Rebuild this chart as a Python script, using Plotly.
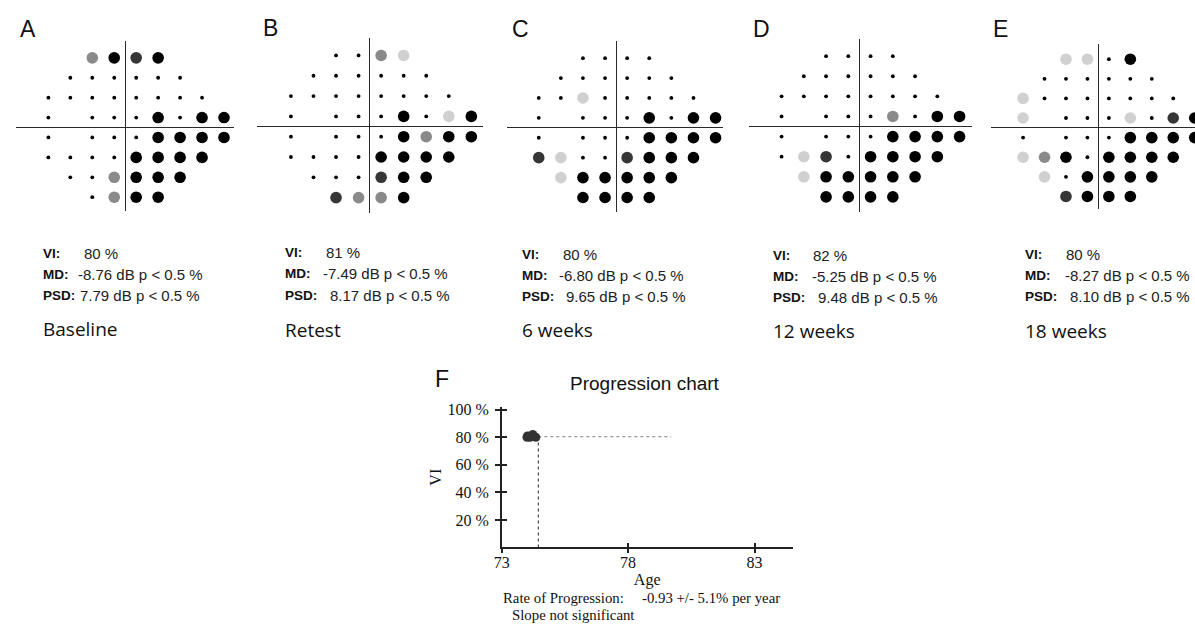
import plotly.graph_objects as go

W, H = 1195, 624

# ---------------- data ----------------
# 24-2 test grid locations (degrees), top row first; blind spot omitted
ROW_Y = [21, 15, 9, 3, -3, -9, -15, -21]
ROW_X = [
    [-9, -3, 3, 9],
    [-15, -9, -3, 3, 9, 15],
    [-21, -15, -9, -3, 3, 9, 15, 21],
    [-21, -9, -3, 3, 9, 15, 21, 27],
    [-21, -9, -3, 3, 9, 15, 21, 27],
    [-21, -15, -9, -3, 3, 9, 15, 21],
    [-15, -9, -3, 3, 9, 15],
    [-9, -3, 3, 9],
]

# pattern deviation levels: 0 normal, 1 p<5%, 2 p<2%, 3 p<1%, 4 p<0.5%
LEVELS_A = [[2, 4, 3, 4], [0] * 6, [0] * 8,
            [0, 0, 0, 0, 4, 0, 4, 4], [0, 0, 0, 0, 4, 4, 4, 4],
            [0, 0, 0, 0, 4, 4, 4, 4], [0, 0, 2, 4, 4, 4], [0, 2, 4, 4]]
LEVELS_B = [[0, 0, 2, 1], [0] * 6, [0] * 8,
            [0, 0, 0, 0, 4, 0, 1, 4], [0, 0, 0, 0, 4, 2, 4, 4],
            [0, 0, 0, 0, 4, 4, 4, 4], [0, 0, 0, 3, 4, 4], [3, 2, 2, 4]]
LEVELS_C = [[0, 0, 0, 0], [0] * 6, [0, 0, 1, 0, 0, 0, 0, 0],
            [0, 0, 0, 0, 4, 0, 4, 4], [0, 0, 0, 0, 4, 4, 4, 4],
            [3, 1, 0, 0, 3, 4, 4, 4], [1, 4, 4, 4, 4, 4], [4, 4, 4, 4]]
LEVELS_D = [[0, 0, 0, 0], [0] * 6, [0] * 8,
            [0, 0, 0, 0, 2, 0, 4, 4], [0, 0, 0, 0, 4, 4, 4, 4],
            [0, 1, 3, 0, 4, 4, 4, 4], [1, 4, 4, 4, 4, 4], [4, 4, 4, 4]]
LEVELS_E = [[1, 1, 0, 4], [0] * 6, [1, 0, 0, 0, 0, 0, 0, 0],
            [1, 0, 0, 0, 1, 0, 3, 4], [0, 0, 0, 0, 4, 4, 4, 4],
            [1, 2, 4, 0, 4, 4, 4, 4], [1, 0, 4, 4, 4, 4], [3, 4, 4, 4]]

PANEL_LETTERS = ["A", "B", "C", "D", "E"]
PANEL_NAMES = ["Baseline", "Retest", "6 weeks", "12 weeks", "18 weeks"]
VI_VALUES = ["80 %", "81 %", "80 %", "82 %", "80 %"]
MD_VALUES = ["-8.76 dB p < 0.5 %", "-7.49 dB p < 0.5 %", "-6.80 dB p < 0.5 %",
             "-5.25 dB p < 0.5 %", "-8.27 dB p < 0.5 %"]
PSD_VALUES = ["7.79 dB p < 0.5 %", "8.17 dB p < 0.5 %", "9.65 dB p < 0.5 %",
              "9.48 dB p < 0.5 %", "8.10 dB p < 0.5 %"]

# progression chart
AGES = [74.0, 74.02, 74.12, 74.23, 74.35]
VI_SERIES = [80, 81, 80, 82, 80]
CURRENT_AGE = 74.45
PROJ_END_AGE = 79.7
PROJ_VI = 80.5
Y_TICKS = [20, 40, 60, 80, 100]
Y_TICKTEXT = ["20 %", "40 %", "60 %", "80 %", "100 %"]
X_TICKS = [73, 78, 83]
RATE_LABEL = "Rate of Progression:"
RATE_VALUE = "-0.93 +/- 5.1% per year"
SLOPE_TEXT = "Slope not significant"

# ---------------- styling / geometry (pixels) ----------------
LEVEL_STYLE = {
    0: dict(color="#000000", size=3.8),
    1: dict(color="#d0d0d0", size=11.6),
    2: dict(color="#8a8a8a", size=11.6),
    3: dict(color="#363636", size=11.6),
    4: dict(color="#000000", size=11.6),
}
# per-panel: centre, px per 6 deg (x, y), cross extents
GEOM = [
    dict(cx=118.0, cy=122.7, sx=22.1, sy=20.1, hx=(8, 228), vy=(35, 207)),
    dict(cx=364.3, cy=121.7, sx=22.7, sy=20.5, hx=(251, 478), vy=(32, 209)),
    dict(cx=612.2, cy=123.0, sx=22.25, sy=20.1, hx=(502, 720), vy=(35, 208)),
    dict(cx=857.2, cy=121.7, sx=22.4, sy=20.3, hx=(746, 970), vy=(33, 208)),
    dict(cx=1097.5, cy=123.0, sx=21.6, sy=19.8, hx=(990, 1195), vy=(38, 205)),
]
LETTER_POS = [(10, 23), (255, 22), (505, 23), (748, 23), (990, 23)]
LABEL_X = [33, 277, 515, 768, 1022]
VI_VAL_X = [75, 318, 557, 808, 1063]
MD_VAL_X = [68, 315, 553, 807, 1062]
PSD_VAL_X = [70, 322, 560, 813, 1067]
ROWS_Y = [(250, 271, 292, 326), (249, 270, 292, 327), (251, 272, 293, 327),
          (252, 273, 294, 328), (251, 272, 293, 328)]

SANS = "Liberation Sans, Arial, sans-serif"
SERIF = "Liberation Serif, Times New Roman, serif"


def px(x):
    return x / W


def py(y):
    return 1 - y / H


fig = go.Figure()
annotations = []
layout = {}
all_levels = [LEVELS_A, LEVELS_B, LEVELS_C, LEVELS_D, LEVELS_E]

for i, levels in enumerate(all_levels):
    n = i + 1
    xa = "x" if n == 1 else f"x{n}"
    ya = "y" if n == 1 else f"y{n}"
    g = GEOM[i]
    for lev in range(5):
        xs, ys = [], []
        for r, yv in enumerate(ROW_Y):
            for c, xv in enumerate(ROW_X[r]):
                if levels[r][c] == lev:
                    xs.append(xv)
                    ys.append(yv)
        if not xs:
            continue
        st = LEVEL_STYLE[lev]
        fig.add_trace(go.Scatter(
            x=xs, y=ys, mode="markers", xaxis=xa, yaxis=ya, showlegend=False,
            hoverinfo="skip",
            marker=dict(color=st["color"], size=st["size"], line=dict(width=0)),
        ))
    x0, x1 = g["hx"]
    y0, y1 = g["vy"]
    kx = 6.0 / g["sx"]
    ky = 6.0 / g["sy"]
    axcommon = dict(showgrid=False, zeroline=True, zerolinecolor="#2a2a2a",
                    zerolinewidth=1.4, showticklabels=False, ticks="",
                    showline=False, fixedrange=True)
    layout["xaxis" if n == 1 else f"xaxis{n}"] = dict(
        domain=[px(x0), min(1.0, px(x1))],
        range=[(x0 - g["cx"]) * kx, (min(x1, W) - g["cx"]) * kx],
        anchor=ya, **axcommon)
    layout["yaxis" if n == 1 else f"yaxis{n}"] = dict(
        domain=[py(y1), py(y0)],
        range=[(g["cy"] - y1) * ky, (g["cy"] - y0) * ky],
        anchor=xa, **axcommon)

    lx, ly = LETTER_POS[i]
    annotations.append(dict(x=px(lx), y=py(ly), xref="paper", yref="paper",
                            text=PANEL_LETTERS[i], showarrow=False,
                            xanchor="left", yanchor="middle",
                            font=dict(family=SANS, size=23, color="#111")))
    r = ROWS_Y[i]
    for lab, val, vx, yy in (("VI:", VI_VALUES[i], VI_VAL_X[i], r[0]),
                             ("MD:", MD_VALUES[i], MD_VAL_X[i], r[1]),
                             ("PSD:", PSD_VALUES[i], PSD_VAL_X[i], r[2])):
        annotations.append(dict(x=px(LABEL_X[i]), y=py(yy), xref="paper",
                                yref="paper", text=f"<b>{lab}</b>",
                                showarrow=False, xanchor="left",
                                yanchor="middle",
                                font=dict(family=SANS, size=13.5, color="#111")))
        annotations.append(dict(x=px(vx), y=py(yy), xref="paper", yref="paper",
                                text=val, showarrow=False, xanchor="left",
                                yanchor="middle",
                                font=dict(family=SANS, size=15, color="#222")))
    annotations.append(dict(x=px(LABEL_X[i]), y=py(r[3]), xref="paper",
                            yref="paper", text=PANEL_NAMES[i], showarrow=False,
                            xanchor="left", yanchor="middle",
                            font=dict(family="Open Sans, sans-serif", size=19,
                                      color="#111")))

# ---------------- progression chart (F) ----------------
FX0, FX1 = 497, 790
FY0, FY1 = 404.9, 546.7
fig.add_trace(go.Scatter(x=[CURRENT_AGE, CURRENT_AGE], y=[0, PROJ_VI],
                         mode="lines", xaxis="x6", yaxis="y6", showlegend=False,
                         hoverinfo="skip",
                         line=dict(color="#444", width=1.2, dash="dot")))
fig.add_trace(go.Scatter(x=[CURRENT_AGE, PROJ_END_AGE], y=[PROJ_VI, PROJ_VI],
                         mode="lines", xaxis="x6", yaxis="y6", showlegend=False,
                         hoverinfo="skip",
                         line=dict(color="#999", width=1.2, dash="dot")))
fig.add_trace(go.Scatter(x=AGES, y=VI_SERIES, mode="markers", xaxis="x6",
                         yaxis="y6", showlegend=False,
                         marker=dict(color="#333", size=9, line=dict(width=0))))

xr = [73, 73 + (FX1 - FX0) / 25.46]
yr = [0, 102]
xdom = [px(FX0), px(FX1)]
ydom = [py(FY1), py(FY0)]
layout["xaxis6"] = dict(domain=xdom, range=xr, anchor="y6", showgrid=False,
                        zeroline=False, showline=True, linecolor="#222",
                        linewidth=1.5, ticks="inside", ticklen=5,
                        tickcolor="#222", tickwidth=1.5, tickvals=X_TICKS,
                        tickfont=dict(family=SERIF, size=16, color="#111"),
                        title=dict(text="Age", standoff=0,
                                   font=dict(family=SERIF, size=16, color="#111")),
                        fixedrange=True)
layout["yaxis6"] = dict(domain=ydom, range=yr, anchor="x6", showgrid=False,
                        zeroline=False, showline=True, linecolor="#222",
                        linewidth=1.5, ticks="outside", ticklen=5,
                        tickcolor="#222", tickwidth=1.5, tickvals=Y_TICKS,
                        ticktext=Y_TICKTEXT, ticklabelstandoff=3,
                        tickfont=dict(family=SERIF, size=16, color="#111"),
                        title=dict(text="VI", standoff=2,
                                   font=dict(family=SERIF, size=16, color="#111")),
                        fixedrange=True)
# overlay axes giving the other half of the crossing tick marks
layout["xaxis7"] = dict(domain=xdom, range=xr, anchor="y6", overlaying="x6",
                        showgrid=False, zeroline=False, showline=False,
                        ticks="outside", ticklen=5, tickcolor="#222",
                        tickwidth=1.5, tickvals=X_TICKS, showticklabels=False,
                        fixedrange=True)
layout["yaxis7"] = dict(domain=ydom, range=yr, anchor="x6", overlaying="y6",
                        showgrid=False, zeroline=False, showline=False,
                        ticks="inside", ticklen=5, tickcolor="#222",
                        tickwidth=1.5, tickvals=Y_TICKS, showticklabels=False,
                        fixedrange=True)
fig.add_trace(go.Scatter(x=[None], y=[None], xaxis="x7", yaxis="y7",
                         showlegend=False, hoverinfo="skip"))

annotations.append(dict(x=px(428), y=py(377), xref="paper", yref="paper",
                        text="F", showarrow=False, xanchor="left",
                        yanchor="middle",
                        font=dict(family=SANS, size=23, color="#111")))
annotations.append(dict(x=px(641), y=py(381), xref="paper", yref="paper",
                        text="Progression chart", showarrow=False,
                        xanchor="center", yanchor="middle",
                        font=dict(family=SANS, size=19, color="#111")))
annotations.append(dict(x=px(498), y=py(598), xref="paper", yref="paper",
                        text=RATE_LABEL, showarrow=False, xanchor="left",
                        yanchor="middle", borderpad=0, borderwidth=0,
                        font=dict(family=SERIF, size=14.8, color="#111")))
annotations.append(dict(x=px(638), y=py(598), xref="paper", yref="paper",
                        text=RATE_VALUE, showarrow=False, xanchor="left",
                        yanchor="middle", borderpad=0, borderwidth=0,
                        font=dict(family=SERIF, size=14.8, color="#111")))
annotations.append(dict(x=px(507), y=py(614.5), xref="paper", yref="paper",
                        text=SLOPE_TEXT, showarrow=False, xanchor="left",
                        yanchor="middle", borderpad=0, borderwidth=0,
                        font=dict(family=SERIF, size=14.8, color="#111")))

fig.update_layout(width=W, height=H, margin=dict(l=0, r=0, t=0, b=0),
                  paper_bgcolor="white", plot_bgcolor="rgba(0,0,0,0)",
                  showlegend=False, annotations=annotations, **layout)

fig.write_html(
    "out.html", config={"displayModeBar": False},
    post_script=(
        "var s=document.createElement('style');"
        "s.innerHTML='html,body{margin:0!important;padding:0!important;"
        "overflow:hidden!important}';"
        "document.head.appendChild(s);"
        "document.body.style.margin='0';"
        "document.documentElement.style.margin='0';"
    ),
)
